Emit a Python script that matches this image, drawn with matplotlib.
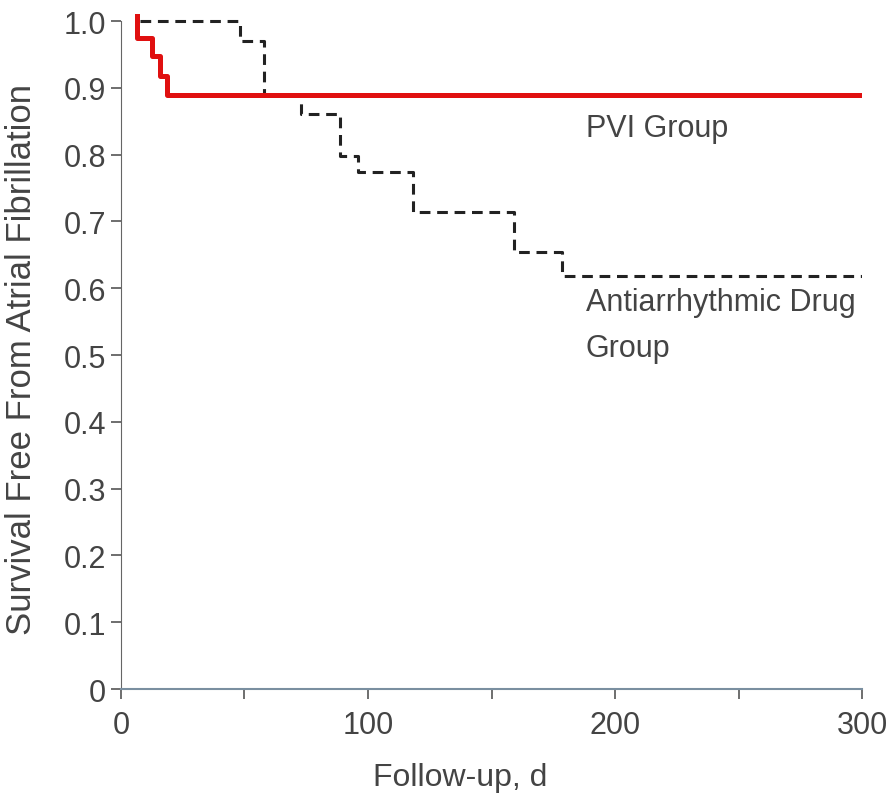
import matplotlib.pyplot as plt

# Kaplan-Meier step data (value holds from day[i] to day[i+1])
pvi_days = [6.5, 6.5, 12.5, 15.8, 18.6, 300]
pvi_surv = [1.01, 0.975, 0.948, 0.918, 0.89, 0.89]

aad_days = [7.7, 48, 58, 73, 88.7, 96, 118, 159, 178.5, 300]
aad_surv = [1.0, 0.97, 0.89, 0.861, 0.798, 0.774, 0.714, 0.654, 0.618, 0.618]

x_ticks = [0, 100, 200, 300]
x_minor = [50, 150, 250]
y_ticks = [0, 0.1, 0.2, 0.3, 0.4, 0.5, 0.6, 0.7, 0.8, 0.9, 1.0]
y_labels = ['0', '0.1', '0.2', '0.3', '0.4', '0.5', '0.6', '0.7', '0.8', '0.9', '1.0']

plt.rcParams['font.family'] = ['Liberation Sans', 'DejaVu Sans']

fig = plt.figure(figsize=(8.89, 8.03), dpi=100)
ax = fig.add_axes([0.136, 0.1407, 0.834, 0.8406])

txt_color = '#444444'

ax.step(aad_days, aad_surv, where='post', color='#222222', lw=2.2,
        linestyle=(0, (3.5, 2.2)))
ax.step(pvi_days, pvi_surv, where='post', color='#e01010', lw=3.6)

ax.set_xlim(0, 300)
ax.set_ylim(0, 1.0105)
ax.set_xticks(x_ticks)
ax.set_xticks(x_minor, minor=True)
ax.set_yticks(y_ticks)
ax.set_yticklabels(y_labels)

for s in ['top', 'right']:
    ax.spines[s].set_visible(False)
ax.spines['left'].set_color('#666666')
ax.spines['bottom'].set_color('#7a8fa0')
ax.spines['bottom'].set_linewidth(1.5)
ax.spines['left'].set_bounds(0, 1.0)

ax.tick_params(axis='both', labelsize=22, colors='#555555', labelcolor=txt_color,
               length=7, width=1.2)
ax.tick_params(axis='x', which='minor', length=7, width=1.2, colors='#555555')
ax.tick_params(axis='x', pad=8)

ax.set_xlabel('Follow-up, d', fontsize=23, color=txt_color)
ax.xaxis.set_label_coords(0.458, -0.108)
ax.set_ylabel('Survival Free From Atrial Fibrillation', fontsize=25,
              color=txt_color)
ax.yaxis.set_label_coords(-0.112, 0.49)

ax.text(188, 0.84, 'PVI Group', fontsize=22, color=txt_color, va='center')
ax.text(188, 0.545, 'Antiarrhythmic Drug\nGroup', fontsize=22, color=txt_color,
        va='center', linespacing=1.7)

fig.savefig('out.png', dpi=100)
